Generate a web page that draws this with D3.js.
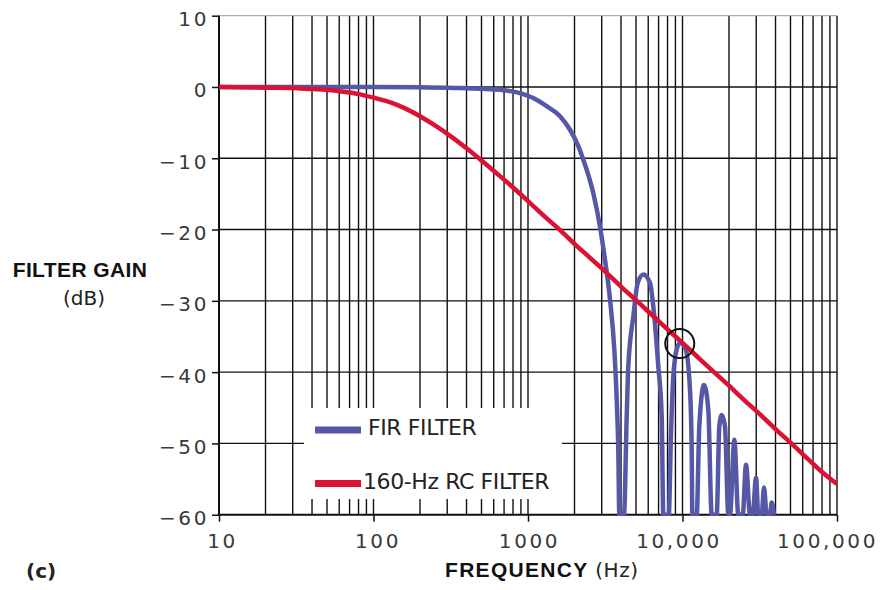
<!DOCTYPE html>
<html>
<head>
<meta charset="utf-8">
<script src="https://cdn.jsdelivr.net/npm/d3@7"></script>
<style>
body { margin: 0; background: #fff; }
svg { display: block; }
.axis .tick text { font-family: "DejaVu Sans", sans-serif; font-size: 20px; letter-spacing: 2.6px; fill: #3a3a3a; }
.axis .tick line { stroke: #111; stroke-width: 1.5; }
.title { font-family: "Liberation Sans", Arial, sans-serif; font-weight: bold; font-size: 21px; fill: #111; }
.unit { font-family: "DejaVu Sans", sans-serif; font-weight: normal; font-size: 20px; fill: #222; }
.legend text { font-family: "DejaVu Sans", sans-serif; font-size: 22px; letter-spacing: -0.4px; fill: #222; }
</style>
</head>
<body>
<svg id="graph"></svg>
<script>
// values (Hz, dB)
var firFreq = [10, 50, 100, 200, 363, 500, 659, 887, 1082, 1321, 1611, 1871, 2117, 2281, 2647, 2924, 3100,
  3395, 3619, 3751, 3841, 3900, 4180, 4354, 4459, 4805, 5129, 5576, 6161, 6570, 6973, 7335, 7513,
  8150, 8427, 8720, 9173, 9634, 10489, 11183, 11470, 11574, 12357, 12846, 13781, 14691, 15453,
  16652, 17310, 17940, 18843, 19792, 20300, 21650, 22970, 24530, 25770, 27350, 28480, 29910, 30950,
  32550, 33690, 35080, 36840, 37790, 39110];
var firGain = [0, 0, 0, -0.05, -0.14, -0.25, -0.4, -0.85, -1.55, -2.7, -4.1, -6.0, -8.3, -10.2, -14.9, -19.6, -23.2,
  -29.8, -36.8, -43.8, -50.9, -60, -60, -46.2, -39.2, -32.2, -27.5, -26.3, -27.5, -32.2, -39.2, -46.2, -60,
  -60, -48.5, -40.6, -36.8, -35.9, -36.8, -42.5, -50.9, -60, -60, -47.6, -41.8, -45.3, -60,
  -60, -47.6, -46, -47.6, -60, -60, -49.5, -60, -60, -53, -60, -60, -54.8, -60,
  -60, -56.2, -60, -60, -58.3, -60];

var rcFreq = [10, 20, 30, 40, 50, 60, 80, 100, 130, 160, 200, 250, 320, 400, 500, 650, 800, 1000, 1300, 1600,
  2000, 2500, 3200, 4000, 5000, 6500, 8000, 10000, 13000, 16000, 20000, 25000, 32000, 40000, 50000,
  65000, 80000, 100000];
var rcGain = [0, -0.1, -0.15, -0.3, -0.4, -0.6, -1.0, -1.5, -2.2, -3.0, -4.1, -5.4, -7.0, -8.6, -10.3, -12.4, -14.1, -16.0, -18.3, -20.0,
  -22.0, -23.9, -26.0, -28.0, -29.9, -32.2, -34.0, -35.9, -38.2, -40.0, -41.9, -43.9, -46.0, -48.0, -49.9,
  -52.2, -54.0, -55.7];

var xTicks = [10, 100, 1000, 10000, 100000];
var xTickLabels = ["10", "100", "1000", "10,000", "100,000"];
var yTicks = [10, 0, -10, -20, -30, -40, -50, -60];
var legendNames = ["FIR FILTER", "160-Hz RC FILTER"];
var legendColors = ["#5757a7", "#da1233"];
var circled = [{freq: 9600, gain: -36}];

var svg = d3.select("#graph")
    .attr("width", 884)
    .attr("height", 590);

var margin = {top: 15.7, left: 219},
    width = 618,
    height = 499;

var x = d3.scaleLog().domain([10, 100000]).range([0, width]),
    y = d3.scaleLinear().domain([-60, 10]).range([height, 0]);

var g = svg.append("g")
    .attr("transform", "translate(" + margin.left + "," + margin.top + ")");

// log grid: 1..9 in every decade
var gridFreqs = [];
xTicks.slice(0, -1).forEach(function(d) {
    for (var k = 1; k < 10; k++) gridFreqs.push(d * k);
});
gridFreqs.push(100000);

g.selectAll(".vgrid")
  .data(gridFreqs)
  .enter().append("line")
    .attr("class", "vgrid")
    .attr("x1", function(d) { return x(d); })
    .attr("x2", function(d) { return x(d); })
    .attr("y1", 0)
    .attr("y2", height)
    .attr("stroke", "#111")
    .attr("stroke-width", 1.4);

g.selectAll(".hgrid")
  .data(yTicks)
  .enter().append("line")
    .attr("class", "hgrid")
    .attr("x1", 0)
    .attr("x2", width)
    .attr("y1", function(d) { return y(d); })
    .attr("y2", function(d) { return y(d); })
    .attr("stroke", function(d) { return d == 10 ? "#999" : "#111"; })
    .attr("stroke-width", function(d) { return d == 10 ? 1 : 1.4; });

// legend box knocks out the grid behind it
svg.append("rect")
    .attr("x", 304)
    .attr("y", 408)
    .attr("width", 258)
    .attr("height", 91)
    .attr("fill", "#fff");

// frame lines
g.append("line").attr("x1", 0).attr("x2", 0).attr("y1", 0).attr("y2", height)
    .attr("stroke", "#111").attr("stroke-width", 2);
g.append("line").attr("x1", 0).attr("x2", width).attr("y1", height).attr("y2", height)
    .attr("stroke", "#111").attr("stroke-width", 1.8);

var yaxis = g.append("g")
    .attr("class", "axis axis--y")
    .call(d3.axisLeft(y).tickValues(yTicks).tickSize(7).tickPadding(3));
yaxis.select(".domain").remove();
yaxis.selectAll("text").attr("dy", "0.5em");

var xaxis = g.append("g")
    .attr("class", "axis axis--x")
    .attr("transform", "translate(0," + height + ")")
    .call(d3.axisBottom(x).tickValues(xTicks)
        .tickFormat(function(d, i) { return xTickLabels[i]; })
        .tickSize(7).tickPadding(12));
xaxis.select(".domain").remove();
// labels in the original sit a little off their ticks
var labelNudge = [3, 4, 1, -4, -10];
xaxis.selectAll("text").attr("dx", function(d, i) { return labelNudge[i]; });

g.append("clipPath")
    .attr("id", "plotclip")
  .append("rect")
    .attr("x", 0).attr("y", 0)
    .attr("width", width).attr("height", height + 1);

var line = d3.line()
    .x(function(d) { return x(d[0]); })
    .y(function(d) { return y(d[1]); })
    .curve(d3.curveMonotoneX);

var fir = firFreq.map(function(f, i) { return [f, firGain[i]]; });
var rc = rcFreq.map(function(f, i) { return [f, rcGain[i]]; });

g.append("path")
    .datum(fir)
    .attr("clip-path", "url(#plotclip)")
    .attr("d", line)
    .attr("fill", "none")
    .attr("stroke", legendColors[0])
    .attr("stroke-width", 4.5)
    .attr("stroke-linejoin", "round");

g.append("path")
    .datum(rc)
    .attr("clip-path", "url(#plotclip)")
    .attr("d", line)
    .attr("fill", "none")
    .attr("stroke", legendColors[1])
    .attr("stroke-width", 4.5)
    .attr("stroke-linejoin", "round");

g.selectAll(".mark")
  .data(circled)
  .enter().append("circle")
    .attr("class", "mark")
    .attr("cx", function(d) { return x(d.freq); })
    .attr("cy", function(d) { return y(d.gain); })
    .attr("r", 14.5)
    .attr("fill", "none")
    .attr("stroke", "#111")
    .attr("stroke-width", 2);

var legend = svg.selectAll(".legend")
  .data(legendNames)
  .enter().append("g")
    .attr("class", "legend")
    .attr("transform", function(d, i) { return "translate(315," + (430 + i * 53.5) + ")"; });

legend.append("line")
    .attr("x1", 0).attr("x2", 46)
    .attr("stroke", function(d, i) { return legendColors[i]; })
    .attr("stroke-width", 7);

legend.append("text")
    .attr("x", function(d, i) { return i == 0 ? 53 : 48; })
    .attr("y", 5)
    .text(function(d) { return d; });

// axis titles
svg.append("text").attr("class", "title")
    .attr("x", 80).attr("y", 277)
    .attr("text-anchor", "middle")
    .style("letter-spacing", "0.4px")
    .text("FILTER GAIN");
svg.append("text").attr("class", "unit")
    .attr("x", 84).attr("y", 305)
    .attr("text-anchor", "middle")
    .text("(dB)");

var xt = svg.append("text").attr("class", "title")
    .attr("x", 445).attr("y", 577);
xt.append("tspan").style("letter-spacing", "1.3px").text("FREQUENCY ");
xt.append("tspan").attr("class", "unit").style("letter-spacing", "0.5px").text("(Hz)");

svg.append("text")
    .attr("x", 26).attr("y", 578)
    .style("font-family", "'DejaVu Sans', sans-serif")
    .style("font-weight", "bold")
    .style("font-size", "20px")
    .style("fill", "#222")
    .text("(c)");
</script>
</body>
</html>
